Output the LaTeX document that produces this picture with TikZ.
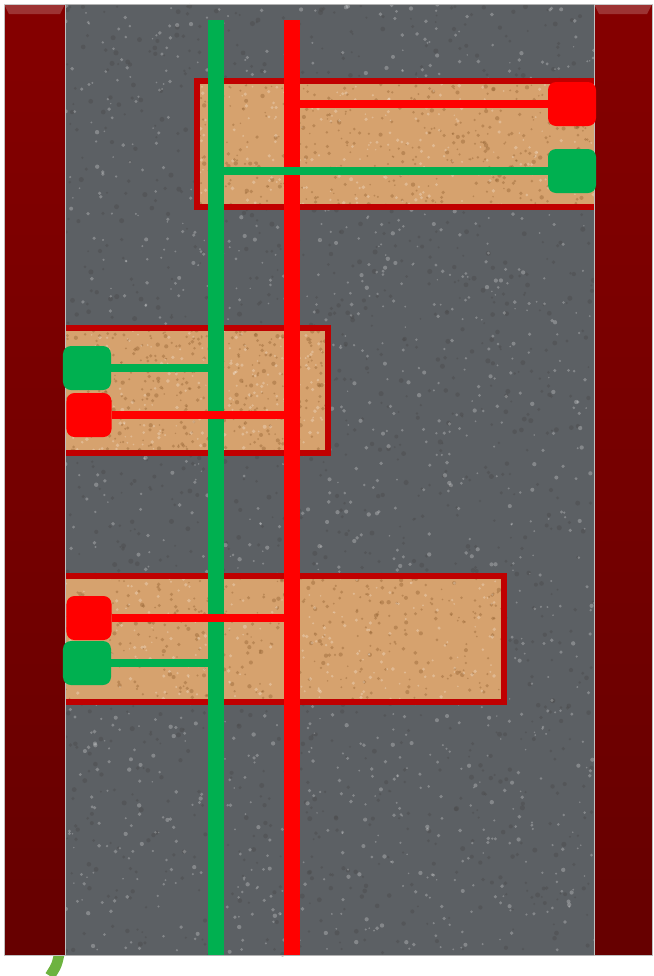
\documentclass[tikz,border=0pt]{standalone}
\usepackage{xcolor}
\definecolor{wallred}{HTML}{850000}
\definecolor{walldark}{HTML}{660000}
\definecolor{asphalt}{HTML}{5C6064}
\definecolor{sand}{HTML}{D6A26E}
\definecolor{sandrim}{HTML}{C00000}
\definecolor{padred}{HTML}{FF0000}
\definecolor{padgreen}{HTML}{00B050}
\definecolor{lime}{HTML}{6DB33F}
\usepackage{tikz}
\usetikzlibrary{positioning,calc}

\begin{document}
\begin{tikzpicture}[x=0.03cm,y=-0.03cm,
  wall/.style={top color=wallred,bottom color=walldark,draw=black!25,line width=0.6pt},
  sandbox/.style={fill=sand,draw=sandrim,line width=5.1pt},
  pad/.style={rounded corners=0.24cm,minimum width=1.44cm,minimum height=1.32cm,inner sep=0pt},
  redpad/.style={pad,fill=padred},
  greenpad/.style={pad,fill=padgreen},
  redwire/.style={draw=padred,line width=6.8pt},
  greenwire/.style={draw=padgreen,line width=6.8pt},
  redmain/.style={draw=padred,line width=13.6pt},
  greenmain/.style={draw=padgreen,line width=13.6pt}]
  \useasboundingbox (0,0) rectangle (654,976);
  % road
  \draw[lime,line width=9pt] (60,950) .. controls (57,965) .. (50,976);
  \fill[asphalt] (65,4) rectangle (594,955);
  \pgfmathsetseed{11}
  \foreach \i in {1,...,1400}
    \fill[black!70,opacity=0.45] ({65+529*rnd},{4+951*rnd}) circle ({1+1.6*rnd});
  \foreach \i in {1,...,1400}
    \fill[white,opacity=0.25] ({65+529*rnd},{4+951*rnd}) circle ({0.8+1.4*rnd});
  \draw[black!30,line width=0.8pt] (65,4) -- (594,4) (65,955) -- (594,955);
  % sand strips
  \foreach \xa/\ya/\xb/\yb in {197/81/600/207, 58/328/328/453, 58/576/504/702} {
    \fill[sand] (\xa,\ya) rectangle (\xb,\yb);
    \begin{scope}
      \clip (\xa,\ya) rectangle (\xb,\yb);
      \foreach \i in {1,...,420}
        \fill[brown!75!black,opacity=0.4] ({\xa+(\xb-\xa)*rnd},{\ya+(\yb-\ya)*rnd}) circle ({0.8+1.4*rnd});
      \foreach \i in {1,...,250}
        \fill[white,opacity=0.25] ({\xa+(\xb-\xa)*rnd},{\ya+(\yb-\ya)*rnd}) circle ({0.8+1.2*rnd});
    \end{scope}
    \draw[sandrim,line width=5.1pt] (\xa,\ya) rectangle (\xb,\yb);
  }
  % walls
  \draw[wall] (4,4) rectangle (65,955);
  \draw[wall] (594,4) rectangle (652,955);
  \fill[white,opacity=0.2] (4,4) -- (65,4) -- (60,14) -- (9,14) -- cycle;
  \fill[white,opacity=0.2] (594,4) -- (652,4) -- (647,14) -- (599,14) -- cycle;
  % main lines
  \coordinate (gtop) at (216,20);
  \coordinate (gbot) at (216,955);
  \coordinate (rtop) at (292,20);
  \coordinate (rbot) at (292,955);
  \draw[greenmain] (gtop) -- (gbot);
  \draw[redmain] (rtop) -- (rbot);
  % pads
  \node[redpad] (r1) at (572,104) {};
  \node[greenpad] (g1) at (572,171) {};
  \node[greenpad] (g2) at (87,368) {};
  \node[redpad,minimum width=1.35cm] (r2) at (89,415) {};
  \node[redpad,minimum width=1.35cm] (r3) at (89,618) {};
  \node[greenpad] (g3) at (87,663) {};
  % wires
  \draw[redwire] (r1.west) -- (r1.west -| rtop);
  \draw[greenwire] (g1.west) -- (g1.west -| gtop);
  \draw[greenwire] (g2.east) -- (g2.east -| gtop);
  \draw[redwire] (r2.east) -- (r2.east -| rtop);
  \draw[redwire] (r3.east) -- (r3.east -| rtop);
  \draw[greenwire] (g3.east) -- (g3.east -| gtop);
\end{tikzpicture}
\end{document}
